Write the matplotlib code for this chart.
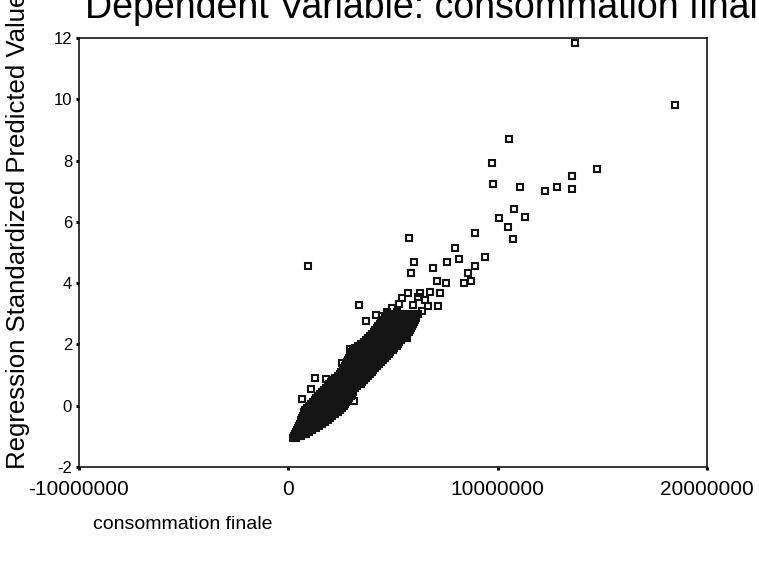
import matplotlib
matplotlib.use("Agg")
import numpy as np
import matplotlib.pyplot as plt

# ---------------------------------------------------------------------------
# Data (x in millions, y = standardized predicted value)
# ---------------------------------------------------------------------------
# scattered points outside the dense band
outlier_x = [13.71, 18.49, 10.56, 9.75, 9.79, 11.08, 12.28, 12.85, 13.57, 13.57,
             14.76, 10.80, 11.32, 10.08, 10.51, 10.75, 8.93, 7.98, 9.41, 7.60,
             8.17, 8.93, 8.60, 8.74, 8.41, 5.78, 6.02, 5.88, 6.93, 7.12,
             7.55, 5.73, 6.31, 6.78, 7.26, 5.30, 5.97, 7.17, 5.21, 4.49,
             0.96, 3.39, 5.69, 2.96, 1.29, 1.82, 0.67, 3.15, 6.55, 6.20,
             5.45, 4.95, 6.65, 4.70, 3.70, 2.55, 1.10, 4.20, 6.40]
outlier_y = [11.85, 9.82, 8.71, 7.93, 7.25, 7.15, 7.02, 7.15, 7.51, 7.08,
             7.73, 6.43, 6.17, 6.14, 5.84, 5.45, 5.65, 5.16, 4.86, 4.70,
             4.80, 4.57, 4.34, 4.08, 4.01, 5.48, 4.70, 4.34, 4.50, 4.08,
             4.01, 3.69, 3.69, 3.72, 3.69, 3.33, 3.30, 3.26, 3.07, 2.94,
             4.57, 3.30, 2.22, 1.86, 0.91, 0.88, 0.23, 0.16, 3.45, 3.55,
             3.50, 3.20, 3.25, 3.05, 2.75, 1.40, 0.55, 2.95, 3.10]

# dense band: one row of points per y level
band_y = [-1.05, -0.985, -0.92, -0.855, -0.79, -0.725, -0.66, -0.595, -0.53, -0.465,
          -0.40, -0.335, -0.27, -0.205, -0.14, -0.075, -0.01, 0.055, 0.12, 0.185,
          0.25, 0.315, 0.38, 0.445, 0.51, 0.575, 0.64, 0.705, 0.77, 0.835,
          0.90, 0.965, 1.03, 1.095, 1.16, 1.225, 1.29, 1.355, 1.42, 1.485,
          1.55, 1.615, 1.68, 1.745, 1.81, 1.875, 1.94, 2.005, 2.07, 2.135,
          2.20, 2.265, 2.33, 2.395, 2.46, 2.525, 2.59, 2.655, 2.72, 2.785,
          2.85, 2.915, 2.98]
band_x = [
    [0.20, 0.35],
    [0.25, 0.45, 0.60],
    [0.30, 0.50, 0.70, 0.85],
    [0.35, 0.45, 0.65, 0.85, 1.00],
    [0.40, 0.60, 0.80, 1.00, 1.15],
    [0.45, 0.55, 0.75, 0.95, 1.15, 1.30],
    [0.50, 0.70, 0.90, 1.10, 1.30, 1.45],
    [0.55, 0.65, 0.85, 1.05, 1.25, 1.45, 1.60],
    [0.60, 0.80, 1.00, 1.20, 1.40, 1.60, 1.75],
    [0.60, 0.75, 0.95, 1.15, 1.35, 1.55, 1.75, 1.90],
    [0.65, 0.85, 1.05, 1.25, 1.45, 1.65, 1.85, 2.00],
    [0.70, 0.80, 1.00, 1.20, 1.40, 1.60, 1.80, 2.00, 2.10],
    [0.75, 0.95, 1.15, 1.35, 1.55, 1.75, 1.95, 2.15, 2.25],
    [0.75, 0.85, 1.05, 1.25, 1.45, 1.65, 1.85, 2.05, 2.25, 2.35],
    [0.80, 1.00, 1.20, 1.40, 1.60, 1.80, 2.00, 2.20, 2.40, 2.45],
    [0.90, 1.10, 1.30, 1.50, 1.70, 1.90, 2.10, 2.30, 2.50, 2.55],
    [1.00, 1.20, 1.40, 1.60, 1.80, 2.00, 2.20, 2.40, 2.60, 2.65],
    [1.10, 1.30, 1.50, 1.70, 1.90, 2.10, 2.30, 2.50, 2.70],
    [1.20, 1.40, 1.60, 1.80, 2.00, 2.20, 2.40, 2.60, 2.75],
    [1.25, 1.45, 1.65, 1.85, 2.05, 2.25, 2.45, 2.65, 2.85],
    [1.30, 1.50, 1.70, 1.90, 2.10, 2.30, 2.50, 2.70, 2.90],
    [1.40, 1.60, 1.80, 2.00, 2.20, 2.40, 2.60, 2.80, 3.00],
    [1.50, 1.70, 1.90, 2.10, 2.30, 2.50, 2.70, 2.90, 3.05],
    [1.60, 1.80, 2.00, 2.20, 2.40, 2.60, 2.80, 3.00, 3.10],
    [1.70, 1.90, 2.10, 2.30, 2.50, 2.70, 2.90, 3.10],
    [1.80, 2.00, 2.20, 2.40, 2.60, 2.80, 3.00, 3.20],
    [1.90, 2.10, 2.30, 2.50, 2.70, 2.90, 3.10, 3.30],
    [1.95, 2.15, 2.35, 2.55, 2.75, 2.95, 3.15, 3.35, 3.45],
    [2.05, 2.25, 2.45, 2.65, 2.85, 3.05, 3.25, 3.50],
    [2.15, 2.35, 2.55, 2.75, 2.95, 3.15, 3.35, 3.55, 3.60],
    [2.25, 2.45, 2.65, 2.85, 3.05, 3.25, 3.45, 3.70],
    [2.35, 2.55, 2.75, 2.95, 3.15, 3.35, 3.55, 3.75, 3.80],
    [2.45, 2.65, 2.85, 3.05, 3.25, 3.45, 3.65, 3.90],
    [2.50, 2.70, 2.90, 3.10, 3.30, 3.50, 3.70, 3.90, 4.00],
    [2.60, 2.80, 3.00, 3.20, 3.40, 3.60, 3.80, 4.05],
    [2.65, 2.85, 3.05, 3.25, 3.45, 3.65, 3.85, 4.05, 4.15],
    [2.70, 2.90, 3.10, 3.30, 3.50, 3.70, 3.90, 4.10, 4.25],
    [2.75, 2.95, 3.15, 3.35, 3.55, 3.75, 3.95, 4.15, 4.35],
    [2.80, 3.00, 3.20, 3.40, 3.60, 3.80, 4.00, 4.20, 4.45],
    [2.85, 3.05, 3.25, 3.45, 3.65, 3.85, 4.05, 4.25, 4.45, 4.50],
    [2.90, 3.10, 3.30, 3.50, 3.70, 3.90, 4.10, 4.30, 4.60],
    [2.95, 3.15, 3.35, 3.55, 3.75, 3.95, 4.15, 4.35, 4.55, 4.70],
    [3.00, 3.20, 3.40, 3.60, 3.80, 4.00, 4.20, 4.40, 4.60, 4.80],
    [3.05, 3.25, 3.45, 3.65, 3.85, 4.05, 4.25, 4.45, 4.65, 4.85],
    [3.10, 3.30, 3.50, 3.70, 3.90, 4.10, 4.30, 4.50, 4.70, 5.00],
    [3.20, 3.40, 3.60, 3.80, 4.00, 4.20, 4.40, 4.60, 4.80, 5.05],
    [3.35, 3.55, 3.75, 3.95, 4.15, 4.35, 4.55, 4.75, 4.95, 5.20],
    [3.45, 3.65, 3.85, 4.05, 4.25, 4.45, 4.65, 4.85, 5.05, 5.25],
    [3.60, 3.80, 4.00, 4.20, 4.40, 4.60, 4.80, 5.00, 5.20, 5.30],
    [3.70, 3.90, 4.10, 4.30, 4.50, 4.70, 4.90, 5.10, 5.30, 5.40],
    [3.80, 4.00, 4.20, 4.40, 4.60, 4.80, 5.00, 5.20, 5.40, 5.50],
    [3.90, 4.10, 4.30, 4.50, 4.70, 4.90, 5.10, 5.30, 5.50, 5.55],
    [4.00, 4.20, 4.40, 4.60, 4.80, 5.00, 5.20, 5.40, 5.60, 5.65],
    [4.10, 4.25, 4.45, 4.65, 4.85, 5.05, 5.25, 5.45, 5.65, 5.75],
    [4.15, 4.35, 4.55, 4.75, 4.95, 5.15, 5.35, 5.55, 5.75, 5.80],
    [4.25, 4.45, 4.65, 4.85, 5.05, 5.25, 5.45, 5.65, 5.85],
    [4.30, 4.50, 4.70, 4.90, 5.10, 5.30, 5.50, 5.70, 5.90],
    [4.40, 4.60, 4.80, 5.00, 5.20, 5.40, 5.60, 5.80, 5.95],
    [4.45, 4.65, 4.85, 5.05, 5.25, 5.45, 5.65, 5.85, 6.00],
    [4.55, 4.75, 4.95, 5.15, 5.35, 5.55, 5.75, 5.95, 6.05],
    [4.60, 4.80, 5.00, 5.20, 5.40, 5.60, 5.80, 6.00, 6.10],
    [4.70, 4.90, 5.10, 5.30, 5.50, 5.70, 5.90, 6.10],
    [4.80, 5.00, 5.20, 5.40, 5.60, 5.80, 6.00, 6.20],
]

x_ticks = [-10000000, 0, 10000000, 20000000]
x_tick_labels = ["-10000000", "0", "10000000", "20000000"]
y_ticks = [-2, 0, 2, 4, 6, 8, 10, 12]

title = "Dependent Variable: consommation finale"
x_label = "consommation finale"
y_label = "Regression Standardized Predicted Value"

# ---------------------------------------------------------------------------
# Assemble points
# ---------------------------------------------------------------------------
xs = list(outlier_x)
ys = list(outlier_y)
for yv, row in zip(band_y, band_x):
    xs.extend(row)
    ys.extend([yv] * len(row))
xs = np.array(xs) * 1e6
ys = np.array(ys)

plt.rcParams["font.family"] = ["Liberation Sans", "DejaVu Sans"]
plt.rcParams["axes.unicode_minus"] = False

fig = plt.figure(figsize=(7.59, 5.70), dpi=100)
ax = fig.add_axes([79 / 759, 1 - 467 / 570, 628 / 759, 429 / 570])

ax.plot(xs, ys, ls="none", marker="s", ms=4.0, mew=1.5,
        mfc="none", mec="#141414", clip_on=False)

ax.set_xlim(-10000000, 20000000)
ax.set_ylim(-2, 12)
ax.set_xticks(x_ticks)
ax.set_xticklabels(x_tick_labels)
ax.set_yticks(y_ticks)

ax.tick_params(axis="x", labelsize=15, length=2.5, width=2.2, pad=7, direction="out")
ax.tick_params(axis="y", labelsize=12, length=2.5, width=2.2, pad=2.5, direction="out")
for sp in ax.spines.values():
    sp.set_linewidth(1.2)
    sp.set_color("#141414")

fig.text(85 / 759, 1 - 18 / 570, title, fontsize=27, ha="left", va="baseline")
fig.text(93 / 759, 1 - 529 / 570, x_label, fontsize=14, ha="left", va="baseline")
fig.text(18 / 759, 1 - 469 / 570, y_label, fontsize=18.5, rotation=90,
         ha="center", va="bottom")

fig.savefig("out.png", dpi=100)
